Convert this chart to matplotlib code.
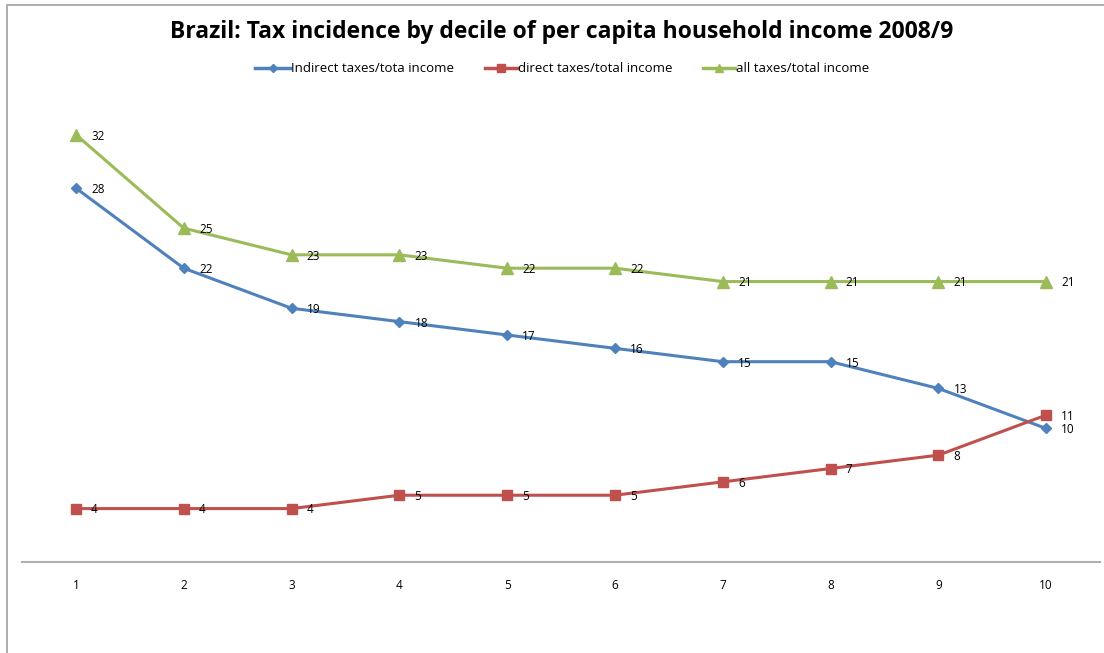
import matplotlib
matplotlib.use("Agg")
import matplotlib.pyplot as plt
from matplotlib.lines import Line2D
from matplotlib.patches import Rectangle

deciles = [1, 2, 3, 4, 5, 6, 7, 8, 9, 10]
indirect = [28, 22, 19, 18, 17, 16, 15, 15, 13, 10]
direct = [4, 4, 4, 5, 5, 5, 6, 7, 8, 11]
all_taxes = [32, 25, 23, 23, 22, 22, 21, 21, 21, 21]
series_names = ["Indirect taxes/tota income", "direct taxes/total income", "all taxes/total income"]
title = "Brazil: Tax incidence by decile of per capita household income 2008/9"

plt.rcParams['font.family'] = ['Open Sans', 'DejaVu Sans']

W, H = 1104, 653
fig = plt.figure(figsize=(W / 100, H / 100), dpi=100)
fig.patches.append(Rectangle((7 / W, -0.1), 1.2, 1 - 5 / H + 0.1, transform=fig.transFigure,
                             fill=False, edgecolor='#a0a0a0', linewidth=1.2))

left, right = 22 / W, 1100 / W
bottom, top = 1 - 562 / H, 1 - 94.6 / H
ax = fig.add_axes([left, bottom, right - left, top - bottom])
ax.set_xlim(0.5, 10.5)
ax.set_ylim(0, 35)
for s in ['top', 'right', 'left']:
    ax.spines[s].set_visible(False)
ax.spines['bottom'].set_color('#b0b0b0')
ax.spines['bottom'].set_linewidth(1.5)
ax.set_yticks([])
ax.set_xticks(deciles)
ax.set_xticklabels([str(d) for d in deciles], fontsize=8.5)
ax.tick_params(axis='x', length=0, pad=12)

styles = [
    (indirect, '#4F81BD', 'D', 5, 4),
    (direct, '#C0504D', 's', 7, 6),
    (all_taxes, '#9BBB59', '^', 8, 5.5),
]
for vals, col, mk, ms, lms in styles:
    ax.plot(deciles, vals, color=col, linewidth=2.2, marker=mk, markersize=ms,
            markerfacecolor=col, markeredgecolor=col, zorder=3)
    for x, v in zip(deciles, vals):
        ax.annotate(str(v), (x, v), xytext=(11, -1), textcoords='offset points',
                    fontsize=8.5, va='center', ha='left', color='black')

fig.text(562 / W, 1 - 32 / H, title, ha='center', va='center', fontsize=16.5, fontweight='bold')

# legend drawn manually
leg_y = 1 - 68 / H
leg_x = [(255, 290), (485, 517), (703, 735)]
for (x0, x1), (vals, col, mk, ms, lms), name in zip(leg_x, styles, series_names):
    fig.add_artist(Line2D([x0 / W, x1 / W], [leg_y, leg_y], transform=fig.transFigure,
                          color=col, linewidth=2.5))
    fig.add_artist(Line2D([(x0 + x1) / 2 / W], [leg_y], transform=fig.transFigure,
                          color=col, marker=mk, markersize=lms, markerfacecolor=col,
                          markeredgecolor=col, linestyle='none'))
    fig.text((x1 + 1) / W, leg_y, name, ha='left', va='center', fontsize=9.5)

fig.savefig("out.png", dpi=100)
